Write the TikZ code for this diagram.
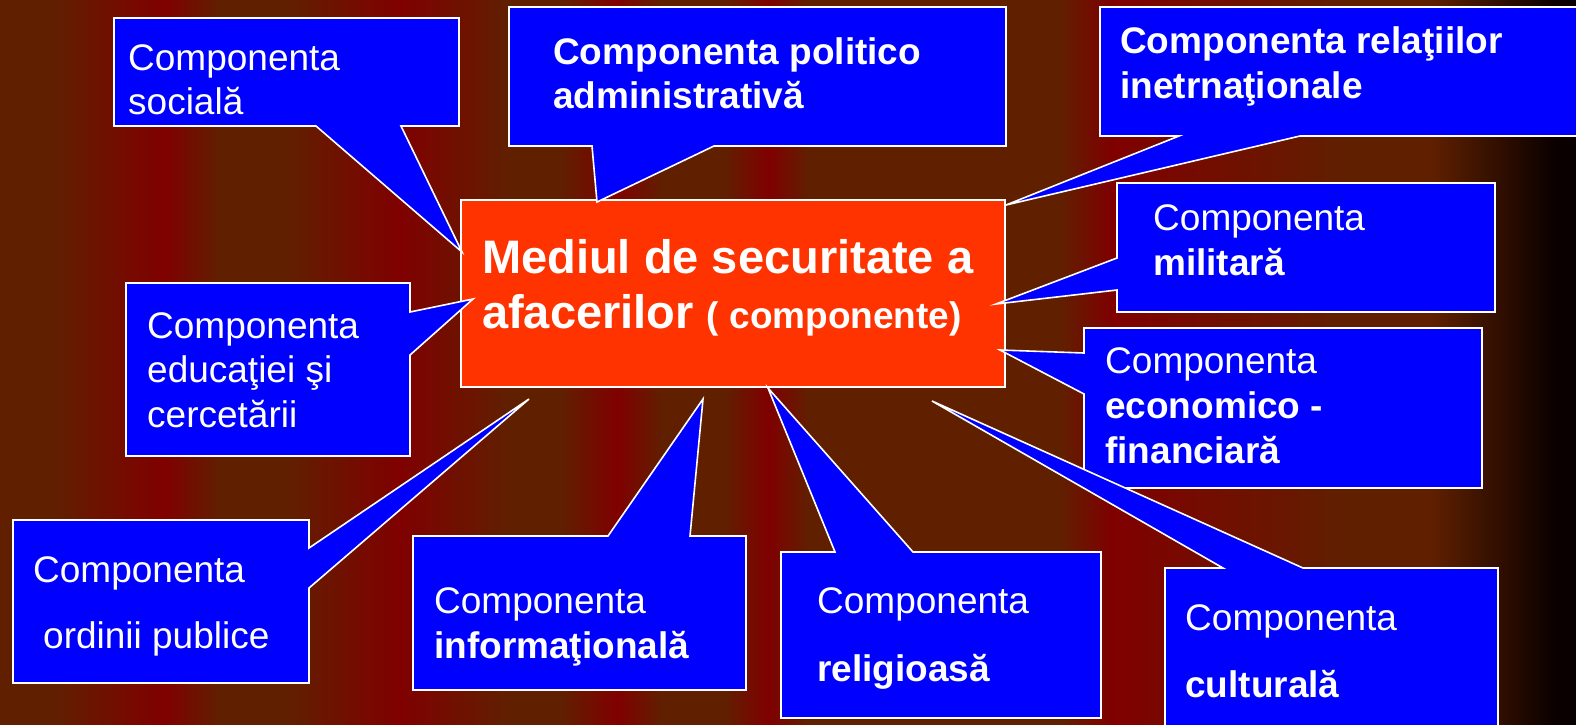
\documentclass[tikz,border=0pt]{standalone}
\usepackage{fontspec}
\setmainfont{Liberation Sans}
\definecolor{bgB}{HTML}{602000}
\definecolor{bgR}{HTML}{800000}
\definecolor{bgK}{HTML}{0A0000}
\definecolor{calblue}{HTML}{0000FF}
\definecolor{centre}{HTML}{FF3300}
\tikzset{
  txt/.style={anchor=base west, inner sep=0pt, text=white, font=\fontsize{37}{44}\selectfont},
  btxt/.style={anchor=base west, inner sep=0pt, text=white, font=\fontsize{37}{44}\selectfont\bfseries},
  bigtxt/.style={anchor=base west, inner sep=0pt, text=white, font=\fontsize{47}{56}\selectfont\bfseries},
  callout/.style={fill=calblue, draw=white, line width=1.6pt, line join=miter},
  centrebox/.style={fill=centre, draw=white, line width=1.6pt},
  seg/.style={shading=axis, shading angle=90}
}
\begin{document}
\begin{tikzpicture}[x=1pt,y=-1pt]
\useasboundingbox (0,0) rectangle (1576,724);
\clip (0,0) rectangle (1576,724);
% background vertical gradient stripes
\foreach \xa/\ca/\xb/\cb in {0/bgB/50/bgB, 50/bgB/165/bgR, 165/bgR/220/bgB, 220/bgB/285/bgB, 285/bgB/400/bgR, 400/bgR/510/bgB, 510/bgB/560/bgB, 560/bgB/617/bgR, 617/bgR/663/bgB, 663/bgB/724/bgB, 724/bgB/768/bgR, 768/bgR/810/bgB, 810/bgB/1060/bgB, 1060/bgB/1112/bgR, 1112/bgR/1350/bgB, 1350/bgB/1430/bgB, 1430/bgB/1555/bgK, 1555/bgK/1577/bgK}{
  \shade[left color=\ca, right color=\cb] (\xa-0.5,-2) rectangle (\xb+0.5,726);
}
% centre box
\draw[centrebox] (461,200) rectangle (1005,387);
% callouts
\draw[callout] (114,18) -- (459,18) -- (459,126) -- (401,126) -- (462,252) -- (316,126) -- (114,126) -- cycle;
\draw[callout] (509,7) -- (1006,7) -- (1006,146) -- (714,146) -- (597,202) -- (592,146) -- (509,146) -- cycle;
\draw[callout] (1100,7) -- (1590,7) -- (1590,136) -- (1300,136) -- (1006,205) -- (1179,136) -- (1100,136) -- cycle;
\draw[callout] (1117,183) -- (1495,183) -- (1495,312) -- (1117,312) -- (1117,290) -- (996,304) -- (1117,258) -- cycle;
\draw[callout] (1084,328) -- (1482,328) -- (1482,488) -- (1084,488) -- (1084,394) -- (1000,350) -- (1084,353) -- cycle;
\draw[callout] (126,283) -- (410,283) -- (410,312) -- (473,299) -- (410,355) -- (410,456) -- (126,456) -- cycle;
\draw[callout] (13,520) -- (309,520) -- (309,548) -- (529,399) -- (309,588) -- (309,683) -- (13,683) -- cycle;
\draw[callout] (413,536) -- (608,536) -- (703,399) -- (690,536) -- (746,536) -- (746,690) -- (413,690) -- cycle;
\draw[callout] (781,552) -- (835,552) -- (768,388) -- (913,552) -- (1101,552) -- (1101,718) -- (781,718) -- cycle;
\draw[callout] (1165,568) -- (1223,568) -- (932,401) -- (1303,568) -- (1498,568) -- (1498,740) -- (1165,740) -- cycle;
% texts
\node[bigtxt] (c1) at (482,273) {Mediul de securitate a};
\node[bigtxt] (c2) at (482,328) {afacerilor {\fontsize{37}{44}\selectfont ( componente)}};
\node[txt] (s1) at (128,70) {Componenta};
\node[txt] (s2) at (128,114) {socială};
\node[btxt] (p1) at (553,64) {Componenta politico};
\node[btxt] (p2) at (553,108) {administrativă};
\node[btxt] (r1) at (1120,53) {Componenta relaţiilor};
\node[btxt] (r2) at (1120,98) {inetrnaţionale};
\node[txt] (m1) at (1153,230) {Componenta};
\node[btxt] (m2) at (1153,275) {militară};
\node[txt] (e1) at (1105,373) {Componenta};
\node[btxt] (e2) at (1105,418) {economico -};
\node[btxt] (e3) at (1105,463) {financiară};
\node[txt] (d1) at (147,338) {Componenta};
\node[txt] (d2) at (147,382) {educaţiei şi};
\node[txt] (d3) at (147,427) {cercetării};
\node[txt] (o1) at (33,582) {Componenta};
\node[txt] (o2) at (43,648) {ordinii publice};
\node[txt] (i1) at (434,613) {Componenta};
\node[btxt] (i2) at (434,658) {informaţională};
\node[txt] (g1) at (817,613) {Componenta};
\node[btxt] (g2) at (817,681) {religioasă};
\node[txt] (u1) at (1185,630) {Componenta};
\node[btxt] (u2) at (1185,697) {culturală};
\end{tikzpicture}
\end{document}
